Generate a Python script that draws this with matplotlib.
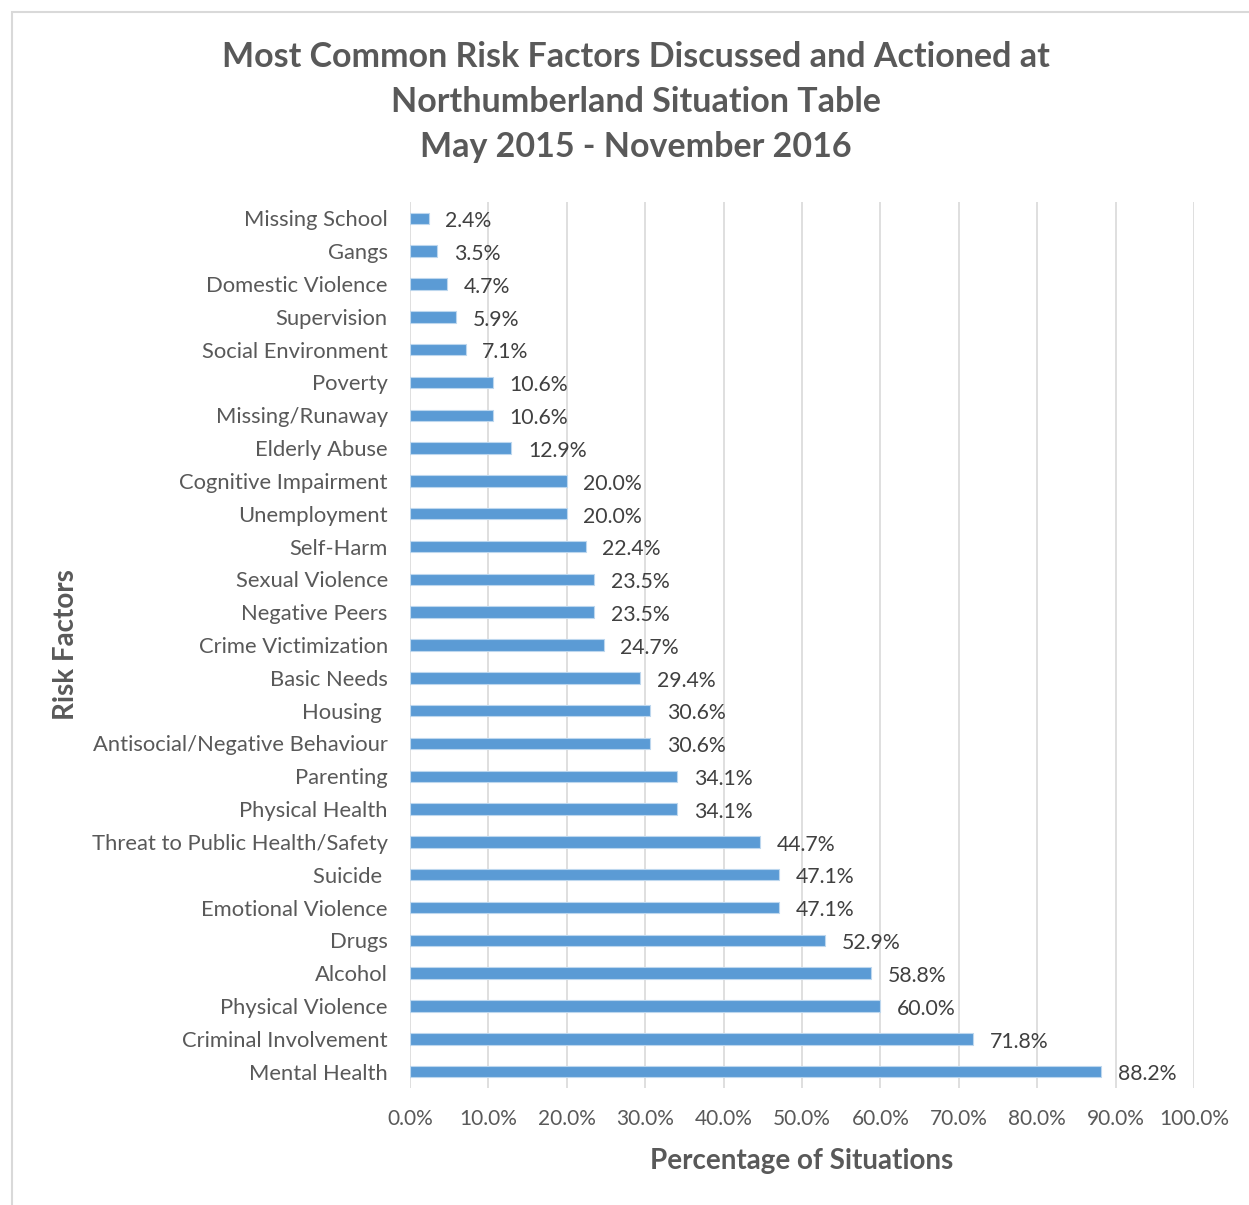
import matplotlib.pyplot as plt
from matplotlib.patches import Rectangle

categories = ["Missing School", "Gangs", "Domestic Violence", "Supervision",
              "Social Environment", "Poverty", "Missing/Runaway", "Elderly Abuse",
              "Cognitive Impairment", "Unemployment", "Self-Harm", "Sexual Violence",
              "Negative Peers", "Crime Victimization", "Basic Needs", "Housing ",
              "Antisocial/Negative Behaviour", "Parenting", "Physical Health",
              "Threat to Public Health/Safety", "Suicide ", "Emotional Violence",
              "Drugs", "Alcohol", "Physical Violence", "Criminal Involvement",
              "Mental Health"]
values = [2.4, 3.5, 4.7, 5.9, 7.1, 10.6, 10.6, 12.9, 20.0, 20.0, 22.4, 23.5,
          23.5, 24.7, 29.4, 30.6, 30.6, 34.1, 34.1, 44.7, 47.1, 47.1, 52.9,
          58.8, 60.0, 71.8, 88.2]
xticks = list(range(0, 101, 10))

plt.rcParams['font.family'] = ['Lato', 'DejaVu Sans']
txt = '#595959'

fig = plt.figure(figsize=(12.49, 12.05), dpi=100)
fig.patches.append(Rectangle((12 / 1249, -0.1), 1.2, 1 - 12 / 1205 + 0.1,
                             transform=fig.transFigure, fill=False,
                             edgecolor='#D9D9D9', linewidth=1.5))
ax = fig.add_axes([410 / 1249, 1 - 1088 / 1205, 784 / 1249, 886 / 1205])

pos = list(range(len(categories)))
ax.barh(pos, values, height=0.35, color='#5B9BD5', edgecolor='#BDD7EE',
        linewidth=0.8, zorder=3)
for p, v in zip(pos, values):
    ax.annotate(f"{v:.1f}%", (v, p), xytext=(12, -2), textcoords='offset points',
                va='center', ha='left', fontsize=15.3, color='#404040')

ax.set_ylim(len(categories) - 0.5, -0.5)
ax.set_xlim(0, 100)
ax.set_yticks(pos)
ax.set_yticklabels(categories, fontsize=15.8, color=txt)
ax.set_xticks(xticks)
ax.set_xticklabels([f"{t:.1f}%" for t in xticks], fontsize=15, color=txt)
ax.tick_params(axis='both', length=0)
ax.tick_params(axis='y', pad=16)
ax.tick_params(axis='x', pad=15)
ax.grid(axis='x', color='#D9D9D9', linewidth=1.2, zorder=0)
for s in ax.spines.values():
    s.set_visible(False)

ax.set_xlabel("Percentage of Situations", fontsize=20, fontweight='bold',
              color=txt, labelpad=14)
fig.text(66 / 1249, 1 - 645 / 1205, "Risk Factors", rotation=90, fontsize=20,
         fontweight='bold', color=txt, ha='center', va='center')
fig.text(636 / 1249, 1 - 102 / 1205,
         "Most Common Risk Factors Discussed and Actioned at\n"
         "Northumberland Situation Table\nMay 2015 - November 2016",
         ha='center', va='center', fontsize=24.5, fontweight='bold', color=txt,
         linespacing=1.5)

fig.savefig("out.png", dpi=100)
